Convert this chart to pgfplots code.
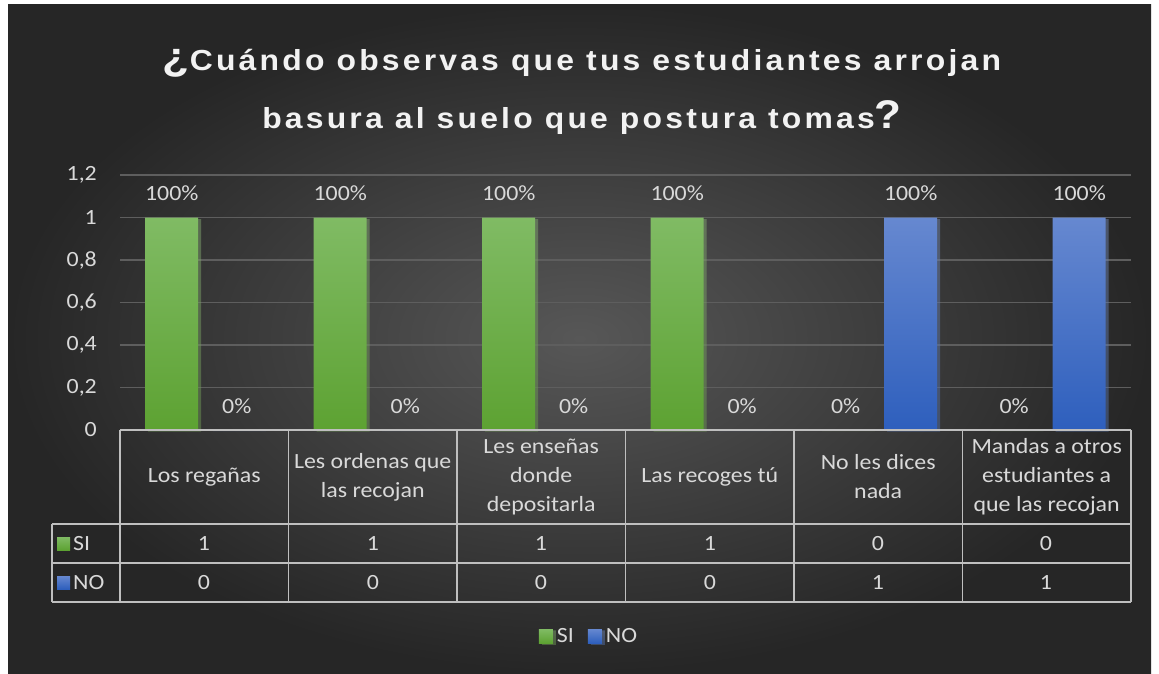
\documentclass[border=0pt]{standalone}
\usepackage{fontspec}
\setmainfont{Carlito}[FakeStretch=1.1]
\newfontfamily\titlefont{Liberation Sans}[LetterSpace=11,FakeStretch=1.1]
\newfontfamily\qfont{Liberation Sans}[FakeStretch=1.1]
\usepackage{pgfplots}
\usetikzlibrary{shadows}
\pgfplotsset{compat=1.18}
\definecolor{bgin}{HTML}{575757}
\definecolor{bgout}{HTML}{262626}
\definecolor{txt}{HTML}{D9D9D9}
\definecolor{gtop}{HTML}{80BB64}
\definecolor{gbot}{HTML}{5DA232}
\definecolor{btop}{HTML}{6688D0}
\definecolor{bbot}{HTML}{2E5FBD}
\definecolor{tline}{HTML}{BFBFBF}
\definecolor{gridc}{HTML}{5E5E5E}
\newcommand{\tf}{\fontsize{21.7}{29}\selectfont}
\begin{document}
\begin{tikzpicture}
\fill[white] (0pt,0pt) rectangle (1159pt,-673pt);
\shade[inner color=bgin, outer color=bgout] (8pt,-4pt) rectangle (1151pt,-673pt);
% title
\node[text=white!95!black, font=\titlefont\bfseries\fontsize{29}{30}\selectfont, anchor=base, inner sep=0pt] at (582pt,-70pt)
  {{\qfont\bfseries\fontsize{40}{40}\selectfont ¿}Cuándo observas que tus estudiantes arrojan};
\node[text=white!95!black, font=\titlefont\bfseries\fontsize{29}{30}\selectfont, anchor=base, inner sep=0pt] at (582pt,-128pt)
  {basura al suelo que postura tomas{\qfont\bfseries\fontsize{40}{40}\selectfont ?}};
\begin{axis}[
  at={(120pt,-430pt)}, anchor=south west,
  scale only axis, width=1011pt, height=255pt,
  ybar=12pt, bar width=53pt,
  ymin=0, ymax=1.2, xmin=-0.5, xmax=5.5,
  enlargelimits=false, clip=false,
  ytick={0,0.2,0.4,0.6,0.8,1,1.2},
  yticklabels={0,{0,2},{0,4},{0,6},{0,8},1,{1,2}},
  xtick={0,1,2,3,4,5},
  xticklabels={Los regañas,{Les ordenas que\\las recojan},{Les enseñas\\donde\\depositarla},Las recoges tú,{No les dices\\nada},{Mandas a otros\\estudiantes a\\que las recojan}},
  axis line style={draw=none},
  major tick length=0pt,
  ymajorgrids, grid style={gridc, line width=1.3pt},
  yticklabel style={font=\tf, text=txt, anchor=east, inner sep=0pt, xshift=-23pt},
  xticklabel style={font=\tf, text=txt, anchor=center, align=center, inner sep=0pt, yshift=-47pt},
  nodes near coords, point meta=explicit symbolic,
  every node near coord/.append style={font=\tf, text=txt, anchor=base, inner sep=0pt, yshift=17pt},
  legend style={at={(0.463,-0.808)}, anchor=center, draw=none, fill=none, font=\tf, text=txt,
    legend columns=2, /tikz/every even column/.append style={column sep=14pt},
    nodes={inner sep=0pt}},
]
\addplot[draw=none, top color=gtop, bottom color=gbot,
  drop shadow={shadow xshift=3pt, shadow yshift=-1.5pt, opacity=0.3},
  legend image code/.code={\shade[top color=gtop, bottom color=gbot] (0pt,-7pt) rectangle (14pt,7pt); \path (18pt,0pt);}]
  coordinates {(0,1)[100\%] (1,1)[100\%] (2,1)[100\%] (3,1)[100\%] (4,0)[0\%] (5,0)[0\%]};
\addplot[draw=none, top color=btop, bottom color=bbot,
  drop shadow={shadow xshift=3pt, shadow yshift=-1.5pt, opacity=0.3},
  legend image code/.code={\shade[top color=btop, bottom color=bbot] (0pt,-7pt) rectangle (14pt,7pt); \path (18pt,0pt);}]
  coordinates {(0,0)[0\%] (1,0)[0\%] (2,0)[0\%] (3,0)[0\%] (4,1)[100\%] (5,1)[100\%]};
\legend{SI,NO}
\end{axis}
% data table
\begin{scope}[tline, line width=1.5pt]
\draw (120pt,-430pt) -- (1131pt,-430pt);
\draw (52pt,-524pt) -- (1131pt,-524pt);
\draw (52pt,-563pt) -- (1131pt,-563pt);
\draw (52pt,-602pt) -- (1131pt,-602pt);
\draw (52pt,-524pt) -- (52pt,-602pt);
\foreach \x in {120,288.5,457,625.5,794,962.5,1131} \draw (\x pt,-430pt) -- (\x pt,-602pt);
\end{scope}
\shade[top color=gtop, bottom color=gbot] (57pt,-537pt) rectangle (70pt,-550pt);
\shade[top color=btop, bottom color=bbot] (57pt,-576pt) rectangle (70pt,-589pt);
\node[font=\tf, text=txt, anchor=west, inner sep=0pt] at (73pt,-544pt) {SI};
\node[font=\tf, text=txt, anchor=west, inner sep=0pt] at (73pt,-583pt) {NO};
\foreach \x/\s/\n in {204/1/0,373/1/0,541/1/0,710/1/0,878/0/1,1046/0/1}{
  \node[font=\tf, text=txt, inner sep=0pt] at (\x pt,-544pt) {\s};
  \node[font=\tf, text=txt, inner sep=0pt] at (\x pt,-583pt) {\n};
}
\end{tikzpicture}
\end{document}
